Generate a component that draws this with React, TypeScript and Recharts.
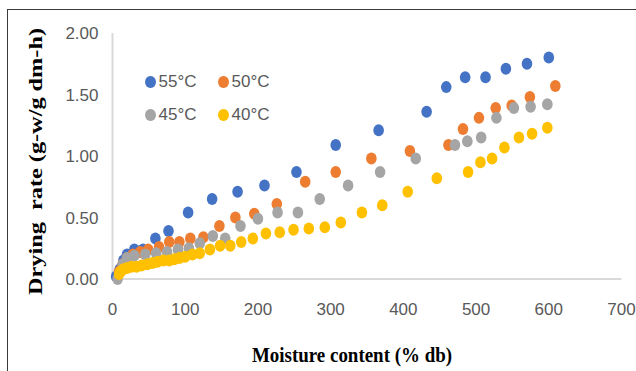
import React from "react";
import { ScatterChart, Scatter, XAxis, YAxis, Legend, Label } from "recharts";

const seriesNames = ["55°C", "50°C", "45°C", "40°C"];
const seriesColors = ["#4472C4", "#ED7D31", "#A5A5A5", "#FFC000"];

const moisture55 = [5, 10, 15, 20, 30, 42, 59, 77, 104, 137, 172, 209, 253, 307, 366, 432, 459, 485, 513, 541, 570, 600];
const rate55 = [0.02, 0.08, 0.15, 0.2, 0.24, 0.24, 0.33, 0.39, 0.54, 0.65, 0.71, 0.76, 0.87, 1.09, 1.21, 1.36, 1.56, 1.64, 1.64, 1.71, 1.75, 1.8];

const moisture50 = [9, 14, 20, 28, 38, 49, 64, 78, 92, 107, 125, 147, 169, 195, 226, 265, 307, 356, 409, 462, 482, 504, 527, 549, 574, 609];
const rate50 = [0.06, 0.12, 0.17, 0.2, 0.22, 0.24, 0.26, 0.3, 0.3, 0.33, 0.34, 0.43, 0.5, 0.53, 0.61, 0.79, 0.87, 0.98, 1.04, 1.09, 1.22, 1.31, 1.39, 1.41, 1.48, 1.57];

const moisture45 = [7, 10, 14, 20, 30, 45, 60, 75, 90, 105, 120, 138, 155, 176, 200, 227, 255, 285, 324, 368, 417, 471, 488, 507, 528, 552, 575, 598];
const rate45 = [0.0, 0.05, 0.12, 0.17, 0.19, 0.2, 0.21, 0.22, 0.24, 0.25, 0.29, 0.35, 0.33, 0.43, 0.49, 0.54, 0.54, 0.65, 0.76, 0.87, 0.98, 1.09, 1.12, 1.15, 1.31, 1.39, 1.4, 1.42];

const moisture40 = [9, 11, 15, 20, 26, 33, 40, 48, 55, 62, 70, 78, 85, 92, 100, 110, 120, 134, 148, 162, 177, 193, 211, 230, 249, 270, 292, 314, 343, 371, 406, 446, 489, 506, 522, 539, 559, 577, 598];
const rate40 = [0.04, 0.06, 0.08, 0.09, 0.1, 0.1, 0.11, 0.12, 0.13, 0.14, 0.15, 0.15, 0.16, 0.17, 0.18, 0.2, 0.21, 0.24, 0.27, 0.27, 0.3, 0.33, 0.37, 0.38, 0.4, 0.41, 0.42, 0.46, 0.54, 0.6, 0.71, 0.82, 0.87, 0.95, 0.98, 1.07, 1.15, 1.18, 1.23];

const xTicks = [0, 100, 200, 300, 400, 500, 600, 700];
const yTicks = [0, 0.5, 1, 1.5, 2];

const xTitle = "Moisture content (% db)";
const yTitle = "Drying  rate (g-w/g dm-h)";

const toPoints = (xs: number[], ys: number[]) => xs.map((x, i) => ({ x, y: ys[i] }));
const seriesData = [
  toPoints(moisture55, rate55),
  toPoints(moisture50, rate50),
  toPoints(moisture45, rate45),
  toPoints(moisture40, rate40),
];

const narrow = "'Liberation Sans Narrow', 'Arial Narrow', 'Liberation Sans', sans-serif";
const serif = "'Liberation Serif', 'Times New Roman', serif";

const makeShape = (color: string) => (props: any) => (
  <ellipse cx={props.cx} cy={props.cy} rx={5.3} ry={6} fill={color} />
);

const LegendContent = () => (
  <div
    style={{
      display: "grid",
      gridTemplateColumns: "73px 73px",
      rowGap: 14,
      fontFamily: narrow,
      fontSize: 17,
      color: "#595959",
      lineHeight: "19px",
    }}
  >
    {seriesNames.map((n, i) => (
      <div key={n} style={{ display: "flex", alignItems: "center" }}>
        <span
          style={{
            display: "inline-block",
            width: 10.6,
            height: 12,
            borderRadius: "50%",
            background: seriesColors[i],
            marginRight: 3,
          }}
        />
        <span>{n}</span>
      </div>
    ))}
  </div>
);

export default function App() {
  return (
    <div
      style={{
        position: "absolute",
        left: 0,
        top: 0,
        width: 636,
        height: 371,
        overflow: "hidden",
        background: "#ffffff",
      }}
    >
      <div
        style={{
          position: "absolute",
          left: 7,
          top: 9,
          width: 700,
          height: 420,
          border: "1.5px solid #3a3a3a",
        }}
      />
      <div style={{ position: "absolute", left: 0, top: 0 }}>
        <ScatterChart width={636} height={371} margin={{ top: 33, right: 14.5, bottom: 0, left: 0 }}>
          <XAxis
            type="number"
            dataKey="x"
            domain={[0, 700]}
            ticks={xTicks}
            tickSize={0}
            tickMargin={24}
            height={92}
            axisLine={{ stroke: "#d9d9d9", strokeWidth: 2 }}
            tick={{ fill: "#595959", fontFamily: narrow, fontSize: 17 }}
            interval={0}
          >
            <Label
              content={() => (
                <text
                  x={352}
                  y={362}
                  textAnchor="middle"
                  fontFamily={serif}
                  fontWeight="bold"
                  fontSize={21}
                  fill="#000"
                  textLength={200}
                  lengthAdjust="spacingAndGlyphs"
                >
                  {xTitle}
                </text>
              )}
            />
          </XAxis>
          <YAxis
            type="number"
            dataKey="y"
            domain={[0, 2]}
            ticks={yTicks}
            tickFormatter={(v: number) => v.toFixed(2)}
            tickSize={0}
            tickMargin={14}
            width={112.5}
            axisLine={{ stroke: "#d9d9d9", strokeWidth: 2 }}
            tick={{ fill: "#595959", fontFamily: narrow, fontSize: 17 }}
            interval={0}
          >
            <Label
              content={() => (
                <text
                  x={0}
                  y={0}
                  transform="translate(42,161.5) rotate(-90)"
                  textAnchor="middle"
                  fontFamily={serif}
                  fontWeight="bold"
                  fontSize={19}
                  fill="#000"
                  textLength={267}
                  lengthAdjust="spacingAndGlyphs"
                  style={{ whiteSpace: "pre" }}
                >
                  {yTitle}
                </text>
              )}
            />
          </YAxis>
          <Legend
            layout="horizontal"
            verticalAlign="middle"
            align="center"
            content={<LegendContent />}
            wrapperStyle={{ position: "absolute", left: 145, top: 72, width: 160 }}
          />
          {seriesData.map((d, i) => (
            <Scatter
              key={seriesNames[i]}
              name={seriesNames[i]}
              data={d}
              fill={seriesColors[i]}
              shape={makeShape(seriesColors[i])}
              isAnimationActive={false}
            />
          ))}
        </ScatterChart>
      </div>
    </div>
  );
}
